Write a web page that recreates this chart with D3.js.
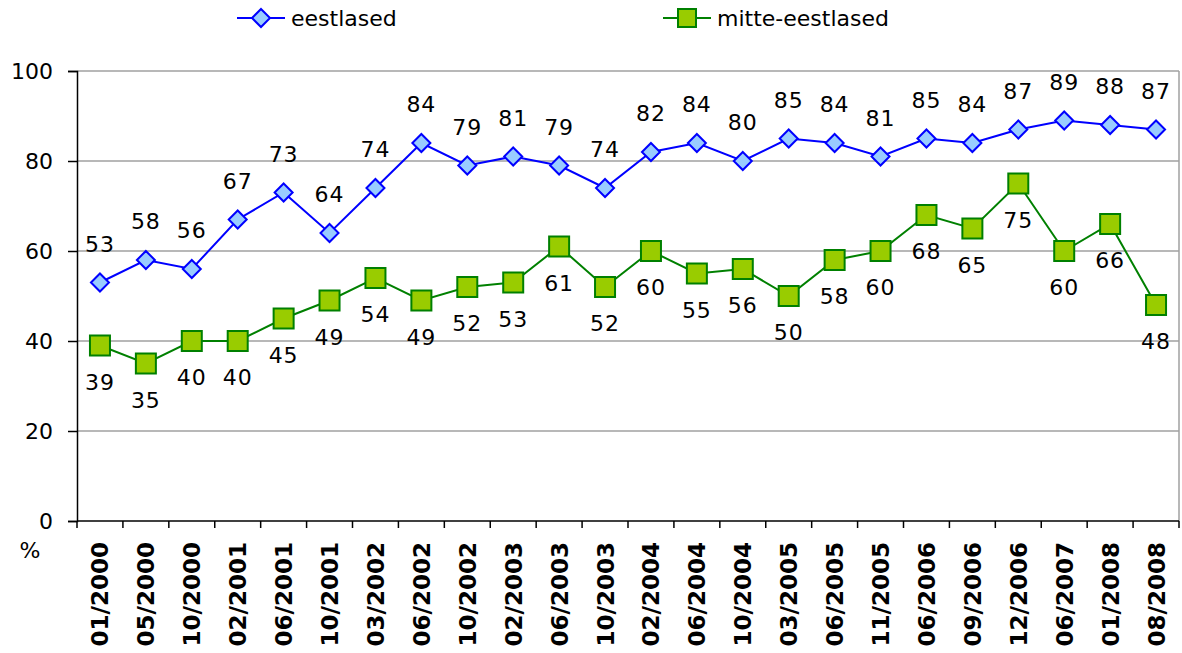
<!DOCTYPE html>
<html>
<head>
<meta charset="utf-8">
<script src="https://d3js.org/d3.v7.min.js"></script>
<style>
  body { margin: 0; background: #fff; }
  text { font-family: "DejaVu Sans", Verdana, sans-serif; fill: #000; }
</style>
</head>
<body>
<div id="chart"></div>
<script>
// data
var categories = ['01/2000', '05/2000', '10/2000', '02/2001', '06/2001', '10/2001', '03/2002', '06/2002',
  '10/2002', '02/2003', '06/2003', '10/2003', '02/2004', '06/2004', '10/2004', '03/2005',
  '06/2005', '11/2005', '06/2006', '09/2006', '12/2006', '06/2007', '01/2008', '08/2008'];
var eestlased = [53, 58, 56, 67, 73, 64, 74, 84, 79, 81, 79, 74, 82, 84, 80, 85, 84, 81, 85, 84, 87, 89, 88, 87];
var mitteEestlased = [39, 35, 40, 40, 45, 49, 54, 49, 52, 53, 61, 52, 60, 55, 56, 50, 58, 60, 68, 65, 75, 60, 66, 48];
var yTicks = [0, 20, 40, 60, 80, 100];
var seriesNames = ['eestlased', 'mitte-eestlased'];

var svgWidth = 1182;
var svgHeight = 653;
var margin = { top: 71, right: 3, bottom: 132, left: 77 };
var chartWidth = svgWidth - margin.left - margin.right;
var chartHeight = svgHeight - margin.top - margin.bottom;

var svg = d3.select('#chart')
  .append('svg')
  .attr('width', svgWidth)
  .attr('height', svgHeight);

var chartGroup = svg.append('g')
  .attr('transform', `translate(${margin.left}, ${margin.top})`);

// scales
var xScale = d3.scaleBand()
  .domain(categories)
  .range([0, chartWidth]);

var yScale = d3.scaleLinear()
  .domain([0, 100])
  .range([chartHeight, 0]);

var xPos = function(d, i) { return xScale(categories[i]) + xScale.bandwidth() / 2; };

// gridlines
chartGroup.append('g')
  .selectAll('line')
  .data(yTicks.slice(1))
  .enter()
  .append('line')
  .attr('x1', 0)
  .attr('x2', chartWidth)
  .attr('y1', d => yScale(d))
  .attr('y2', d => yScale(d))
  .attr('stroke', '#a0a0a0')
  .attr('stroke-width', 1.5);

// right border of plot
chartGroup.append('line')
  .attr('x1', chartWidth)
  .attr('x2', chartWidth)
  .attr('y1', 0)
  .attr('y2', chartHeight)
  .attr('stroke', '#a0a0a0')
  .attr('stroke-width', 1.5);

// y axis
var leftAxis = d3.axisLeft(yScale)
  .tickValues(yTicks)
  .tickSize(9)
  .tickPadding(15);

var yAxis = chartGroup.append('g')
  .call(leftAxis);
yAxis.select('.domain').attr('stroke', '#000').attr('stroke-width', 1.5);
yAxis.selectAll('.tick line').attr('stroke', '#000').attr('stroke-width', 1.5);
yAxis.selectAll('.tick text')
  .attr('font-size', '22px')
  .attr('font-family', '"DejaVu Sans", Verdana, sans-serif');

// x axis with ticks at category boundaries
var xAxis = chartGroup.append('g')
  .attr('transform', `translate(0, ${chartHeight})`);

xAxis.append('line')
  .attr('x1', 0)
  .attr('x2', chartWidth)
  .attr('stroke', '#000')
  .attr('stroke-width', 1.5);

xAxis.selectAll('.xtick')
  .data(categories.concat(['end']))
  .enter()
  .append('line')
  .attr('class', 'xtick')
  .attr('x1', (d, i) => i * xScale.step())
  .attr('x2', (d, i) => i * xScale.step())
  .attr('y1', 0)
  .attr('y2', 7)
  .attr('stroke', '#000')
  .attr('stroke-width', 1.5);

xAxis.selectAll('.xlabel')
  .data(categories)
  .enter()
  .append('text')
  .attr('class', 'xlabel')
  .attr('transform', (d, i) => `translate(${xPos(d, i) + 8.5}, 21) rotate(-90)`)
  .attr('text-anchor', 'end')
  .attr('font-size', '23px')
  .attr('font-weight', 'bold')
  .text(d => d);

// % label
svg.append('text')
  .attr('x', 30)
  .attr('y', 558)
  .attr('text-anchor', 'middle')
  .attr('font-size', '22px')
  .text('%');

// lines
var line = d3.line()
  .x(xPos)
  .y(d => yScale(d));

chartGroup.append('path')
  .datum(eestlased)
  .attr('d', line)
  .attr('fill', 'none')
  .attr('stroke', '#0000ff')
  .attr('stroke-width', 2);

chartGroup.append('path')
  .datum(mitteEestlased)
  .attr('d', line)
  .attr('fill', 'none')
  .attr('stroke', '#008000')
  .attr('stroke-width', 2);

// markers
var diamond = 'M0,-9L9,0L0,9L-9,0Z';

chartGroup.selectAll('.diamond')
  .data(eestlased)
  .enter()
  .append('path')
  .attr('class', 'diamond')
  .attr('d', diamond)
  .attr('transform', (d, i) => `translate(${xPos(d, i)}, ${yScale(d)})`)
  .attr('fill', '#99ccff')
  .attr('stroke', '#0000ff')
  .attr('stroke-width', 2);

chartGroup.selectAll('.square')
  .data(mitteEestlased)
  .enter()
  .append('rect')
  .attr('class', 'square')
  .attr('x', (d, i) => xPos(d, i) - 10)
  .attr('y', d => yScale(d) - 10)
  .attr('width', 20)
  .attr('height', 20)
  .attr('fill', '#99cc00')
  .attr('stroke', '#008000')
  .attr('stroke-width', 2);

// data labels
chartGroup.selectAll('.blueLabel')
  .data(eestlased)
  .enter()
  .append('text')
  .attr('class', 'blueLabel')
  .attr('x', xPos)
  .attr('y', d => yScale(d) - 31)
  .attr('text-anchor', 'middle')
  .attr('font-size', '22px')
  .attr('letter-spacing', '1px')
  .text(d => d);

chartGroup.selectAll('.greenLabel')
  .data(mitteEestlased)
  .enter()
  .append('text')
  .attr('class', 'greenLabel')
  .attr('x', xPos)
  .attr('y', d => yScale(d) + 44)
  .attr('text-anchor', 'middle')
  .attr('font-size', '22px')
  .attr('letter-spacing', '1px')
  .text(d => d);

// legend
var legendItems = [
  { name: seriesNames[0], x: 237, color: '#0000ff', fill: '#99ccff', shape: 'diamond' },
  { name: seriesNames[1], x: 663, color: '#008000', fill: '#99cc00', shape: 'square' }
];

var legend = svg.selectAll('.legend')
  .data(legendItems)
  .enter()
  .append('g')
  .attr('class', 'legend')
  .attr('transform', d => `translate(${d.x}, 18)`);

legend.append('line')
  .attr('x1', 0)
  .attr('x2', 48)
  .attr('stroke', d => d.color)
  .attr('stroke-width', 2);

legend.each(function(d) {
  var g = d3.select(this);
  if (d.shape === 'diamond') {
    g.append('path')
      .attr('d', diamond)
      .attr('transform', 'translate(24, 0)')
      .attr('fill', d.fill)
      .attr('stroke', d.color)
      .attr('stroke-width', 2);
  } else {
    g.append('rect')
      .attr('x', 15)
      .attr('y', -9)
      .attr('width', 18)
      .attr('height', 18)
      .attr('fill', d.fill)
      .attr('stroke', d.color)
      .attr('stroke-width', 2);
  }
});

legend.append('text')
  .attr('x', 54)
  .attr('y', 8)
  .attr('font-size', '22px')
  .text(d => d.name);
</script>
</body>
</html>
